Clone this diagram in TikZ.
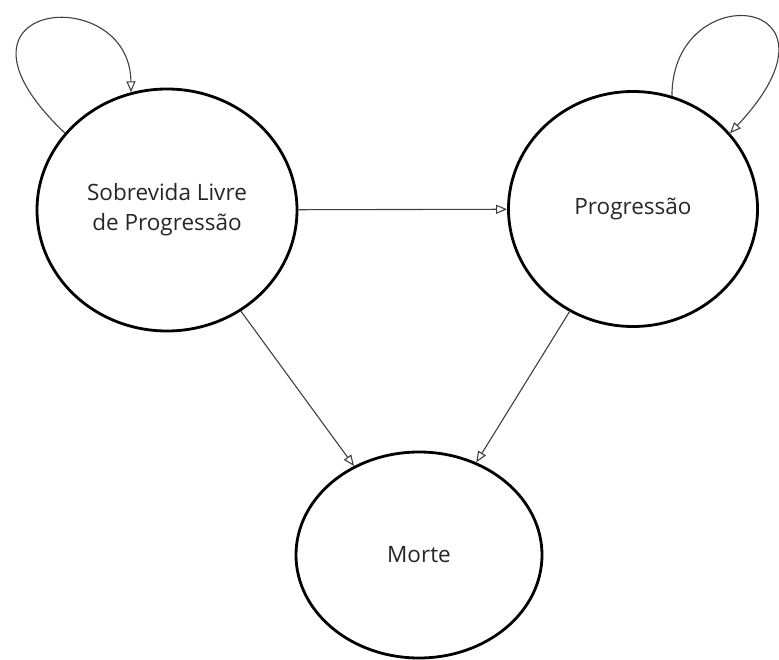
\documentclass[tikz,border=0pt]{standalone}
\usepackage{fontspec}
\setmainfont{Open Sans}
\usetikzlibrary{shapes.geometric,arrows.meta}

\begin{document}
\begin{tikzpicture}[x=1pt,y=1pt,
	estado/.style={ellipse,draw=black,line width=2.8pt,inner sep=0pt,
		font=\fontsize{22.5}{30}\selectfont,text=black!85,align=center},
	seta/.style={draw=black!75,line width=1.1pt,
		-{Triangle[open,length=11pt,width=9pt]}}]
	\useasboundingbox (0,0) rectangle (779,-660);
	\node[estado,minimum width=260pt,minimum height=242pt] (sobrevida) at (167,-210) {Sobrevida Livre\\de Progressão};
	\node[estado,minimum width=249pt,minimum height=235pt] (progressao) at (633,-209) {Progressão};
	\node[estado,minimum width=246pt,minimum height=206pt] (morte) at (419,-555) {Morte};
	% transicoes
	\draw[seta] (sobrevida) -- (progressao);
	\draw[seta] (sobrevida) -- (morte);
	\draw[seta] (progressao) -- (morte);
	\draw[seta] (sobrevida.143) .. controls (-75,0) and (130,20) .. (sobrevida.107);
	\draw[seta] (progressao.71) .. controls (672,25) and (860,5) .. (progressao.38);
\end{tikzpicture}
\end{document}
